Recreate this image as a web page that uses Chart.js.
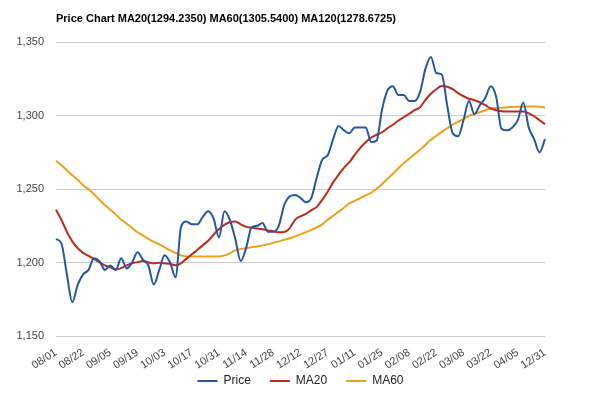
<!DOCTYPE html>
<html>
<head>
<meta charset="utf-8">
<title>Price Chart</title>
<script src="https://cdn.jsdelivr.net/npm/chart.js@4"></script>
<style>
  html, body { margin: 0; padding: 0; background: #fff; }
  #wrap { width: 600px; height: 393px; }
</style>
</head>
<body>
<div id="wrap"><canvas id="priceChart" width="600" height="393"></canvas></div>
<script>
// tick labels shown on the x axis, one every 5 points
const tickLabels = ['08/01', '08/22', '09/05', '09/19', '10/03', '10/17', '10/31', '11/14', '11/28', '12/12',
  '12/27', '01/11', '01/25', '02/08', '02/22', '03/08', '03/22', '04/05', '12/31'];

const price = [1216, 1213, 1192, 1173, 1185, 1192, 1195, 1203, 1201, 1195,
  1198, 1195, 1203, 1196, 1200, 1207, 1202, 1198, 1185, 1195,
  1205, 1200, 1190, 1224, 1228, 1226, 1226, 1231, 1235, 1230,
  1217, 1235, 1229, 1216, 1201, 1210, 1224, 1225, 1227, 1221,
  1221, 1225, 1239, 1245, 1246, 1244, 1241, 1244, 1258, 1270,
  1273, 1284, 1293, 1290, 1288, 1292, 1292, 1292, 1282, 1283,
  1304, 1317, 1320, 1314, 1314, 1310, 1310, 1316, 1332, 1340,
  1329, 1328, 1307, 1288, 1286, 1297, 1310, 1301, 1307, 1312,
  1320, 1313, 1291, 1290, 1292, 1297, 1309, 1292, 1284, 1275, 1284];

const ma20 = [1236, 1229, 1221, 1214.4, 1209.7, 1206.6, 1204.5, 1202.5, 1200.1, 1198.1,
  1196.7, 1195.3, 1196.2, 1198.1, 1199.5, 1200.3, 1201, 1200.1, 1199.5, 1199.8,
  1199.5, 1199.1, 1198.1, 1199.5, 1202.5, 1205.6, 1208.6, 1211.7, 1214.8, 1218.9,
  1222.9, 1225.7, 1227.4, 1227.9, 1226, 1224.3, 1223.8, 1223.2, 1222.6, 1221.9,
  1221.3, 1220.6, 1220.8, 1223.3, 1229.1, 1231.5, 1233.2, 1235.7, 1237.9, 1242.7,
  1248.2, 1254.6, 1259.7, 1264.5, 1268.3, 1273.4, 1278.1, 1281.9, 1285, 1287,
  1288.7, 1291.4, 1293.8, 1296.5, 1298.9, 1301.3, 1303.7, 1305.7, 1310.8, 1314.9,
  1318, 1320.1, 1319.7, 1318, 1315.3, 1313.2, 1311.5, 1310.5, 1309.1, 1307.1,
  1304.9, 1303.7, 1303, 1302.8, 1302.8, 1302.8, 1302.8, 1301.6, 1299.6, 1296.9, 1294.2];

const ma60 = [1269.3, 1266.2, 1262.8, 1259.4, 1256.3, 1252.6, 1249.9, 1246.5, 1242.7, 1239,
  1235.9, 1232.8, 1229.1, 1226.4, 1223.6, 1220.6, 1218.5, 1216.1, 1214.1, 1212.4,
  1210.3, 1208.3, 1206.6, 1204.9, 1204.2, 1204.1, 1204.1, 1204.1, 1204.1, 1204.1,
  1204.2, 1204.9, 1206.3, 1208.3, 1209.3, 1209.7, 1210.4, 1211, 1211.7, 1212.4,
  1213.4, 1214.4, 1215.5, 1216.5, 1217.8, 1219.2, 1220.6, 1222.3, 1224, 1226,
  1229.1, 1231.8, 1234.5, 1237.3, 1240.3, 1242, 1243.9, 1245.8, 1247.5, 1250.2,
  1253.3, 1257, 1260.4, 1264.2, 1267.6, 1270.6, 1273.7, 1276.8, 1280.2, 1283.6,
  1286.3, 1289, 1291.4, 1293.8, 1295.8, 1297.5, 1299.9, 1301.3, 1302.3, 1303.7,
  1304.7, 1305.2, 1305.4, 1305.7, 1305.9, 1306.1, 1306.1, 1306.2, 1306.3, 1306.1, 1305.5];

const titleText = 'Price Chart MA20(1294.2350) MA60(1305.5400) MA120(1278.6725)';

const days = price.map((_, i) => i); // one slot per point

const FONT = 'Arial, "Liberation Sans", sans-serif';

function line(label, data, color) {
  return {
    label: label,
    data: data,
    borderColor: color,
    backgroundColor: color,
    borderWidth: 2,
    pointRadius: 0,
    cubicInterpolationMode: 'monotone',
    fill: false
  };
}

// the rotated date labels hang below the x box, let them draw down to the canvas edge
const labelRoom = {
  id: 'labelRoom',
  afterLayout(chart) {
    chart.scales.x.bottom = chart.height;
  }
};

new Chart(document.getElementById('priceChart'), {
  type: 'line',
  data: {
    labels: days,
    datasets: [
      line('Price', price, '#2456a6'),
      line('MA20', ma20, '#bd2a1c'),
      line('MA60', ma60, '#eaa21c')
    ]
  },
  plugins: [labelRoom],
  options: {
    responsive: false,
    animation: false,
    devicePixelRatio: 1,
    layout: { padding: { left: 0, right: 55, top: 0, bottom: 0 } },
    plugins: {
      title: {
        display: true,
        text: titleText,
        align: 'start',
        fullSize: false,
        color: '#000',
        font: { family: FONT, size: 11, weight: 'bold' },
        padding: { top: 12, bottom: 17 }
      },
      legend: {
        position: 'bottom',
        fullSize: false,
        maxHeight: 37,
        labels: {
          usePointStyle: true,
          pointStyle: 'line',
          pointStyleWidth: 20,
          padding: 19,
          color: '#222',
          font: { family: FONT, size: 12 }
        }
      },
      tooltip: { enabled: false }
    },
    scales: {
      x: {
        grid: { display: false },
        border: { display: false },
        afterFit: s => { s.height = 20; },
        ticks: {
          autoSkip: false,
          minRotation: 33,
          maxRotation: 33,
          padding: 2,
          color: '#444',
          font: { family: FONT, size: 11 },
          callback: (v, i) => (i % 5 === 0 ? tickLabels[i / 5] : null)
        }
      },
      y: {
        min: 1150,
        max: 1350,
        afterFit: s => { s.width = 56; },
        grid: { color: '#cccccc', drawTicks: false },
        border: { display: false },
        ticks: {
          stepSize: 50,
          padding: 12,
          color: '#444',
          font: { family: FONT, size: 11 }
        }
      }
    }
  }
});
</script>
</body>
</html>
